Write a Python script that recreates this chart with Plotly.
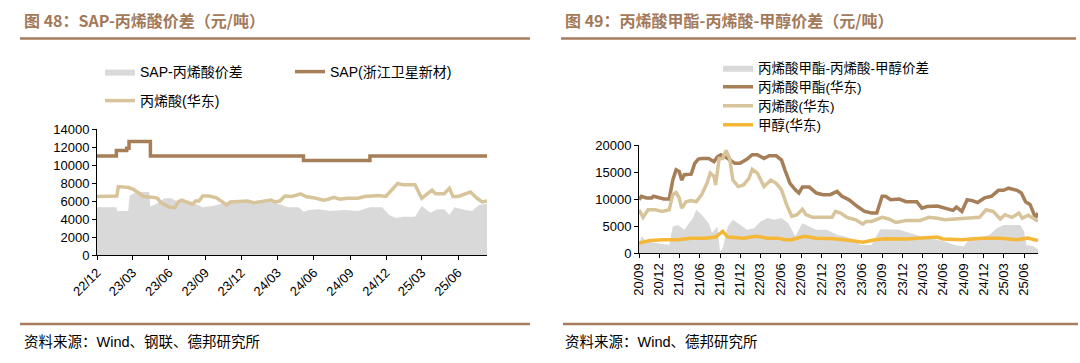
import plotly.graph_objects as go

# ---------------- Left chart: SAP - acrylic acid spread (yuan/t) ----------------
sap_dates = ["2022-12-01", "2023-01-19", "2023-02-14", "2023-02-20", "2023-04-15",
             "2024-05-06", "2024-10-21", "2025-08-13"]
sap_vals = [11000, 11600, 11850, 12600, 11000, 10500, 11000, 11000]

aa_l_dates = ["2022-12-01", "2023-01-20", "2023-01-24", "2023-02-02", "2023-02-19", "2023-03-03",
              "2023-03-20", "2023-03-29", "2023-04-24", "2023-05-03", "2023-05-12", "2023-05-21",
              "2023-06-03", "2023-06-16", "2023-06-24", "2023-07-03", "2023-07-21", "2023-07-30",
              "2023-08-07", "2023-08-16", "2023-08-25", "2023-09-11", "2023-09-29", "2023-10-16",
              "2023-10-25", "2023-11-03", "2023-11-29", "2023-12-16", "2024-01-02", "2024-01-19",
              "2024-02-14", "2024-02-23", "2024-03-07", "2024-03-20", "2024-04-07", "2024-04-29",
              "2024-05-12", "2024-06-07", "2024-06-25", "2024-07-08", "2024-07-21", "2024-08-07",
              "2024-08-25", "2024-09-21", "2024-10-08", "2024-10-26", "2024-11-12", "2024-11-30",
              "2024-12-17", "2024-12-30", "2025-01-12", "2025-01-30", "2025-02-12", "2025-03-01",
              "2025-03-14", "2025-03-27", "2025-04-05", "2025-04-27", "2025-05-10", "2025-05-19",
              "2025-06-01", "2025-06-19", "2025-07-02", "2025-07-19", "2025-08-01", "2025-08-13"]
aa_l_vals = [6500, 6550, 7600, 7550, 7500, 7300,
             6700, 6500, 6400, 6300, 5800, 5550,
             5300, 5250, 5900, 6100, 5800, 5650,
             6000, 6000, 6550, 6550, 6350, 5900,
             5550, 5900, 6000, 6000, 5800, 5900,
             6100, 5900, 6000, 6550, 6500, 6800,
             6500, 6300, 6100, 6200, 6400, 6200,
             6300, 6300, 6500, 6550, 6600, 6500,
             7400, 7950, 7800, 7800, 7800, 6300,
             6700, 7200, 6800, 6800, 7400, 6500,
             6500, 6800, 7000, 6300, 5900, 6000]

spread_l_dates = ["2022-12-01", "2023-01-19", "2023-01-21", "2023-02-18", "2023-02-21", "2023-03-10",
                  "2023-04-12", "2023-04-15", "2023-05-03", "2023-05-21", "2023-06-07", "2023-06-24",
                  "2023-07-12", "2023-07-30", "2023-08-25", "2023-09-20", "2023-10-16", "2023-11-03",
                  "2023-11-29", "2023-12-16", "2024-01-11", "2024-02-06", "2024-02-23", "2024-03-11",
                  "2024-03-29", "2024-04-24", "2024-05-06", "2024-05-20", "2024-06-15", "2024-07-12",
                  "2024-08-16", "2024-09-21", "2024-10-21", "2024-11-21", "2024-12-09", "2024-12-26",
                  "2025-01-12", "2025-02-12", "2025-03-01", "2025-03-23", "2025-04-09", "2025-04-27",
                  "2025-05-10", "2025-05-23", "2025-06-19", "2025-07-06", "2025-07-24", "2025-08-13"]
spread_l_vals = [5300, 5300, 4900, 4900, 6550, 7000,
                 7000, 5400, 5750, 6300, 6300, 5900,
                 6100, 5900, 5300, 5450, 5750, 5900,
                 5800, 5900, 5800, 5900, 5800, 5550,
                 5300, 5300, 4800, 5000, 5070, 4900,
                 5000, 4900, 5300, 5300, 4450, 4100,
                 4250, 4250, 5450, 4700, 5070, 5070,
                 4450, 5300, 5000, 4900, 5550, 5700]

# ---------------- Right chart: methyl acrylate - acrylic acid - methanol ----------------
ma_dates = ["2020-09-01", "2020-09-12", "2020-10-05", "2020-10-28", "2020-11-05", "2020-11-28",
            "2020-12-22", "2021-01-15", "2021-01-31", "2021-02-15", "2021-03-01", "2021-03-12",
            "2021-03-24", "2021-04-24", "2021-05-10", "2021-05-26", "2021-06-10", "2021-07-12",
            "2021-08-05", "2021-08-20", "2021-09-05", "2021-10-06", "2021-11-07", "2021-11-30",
            "2022-01-01", "2022-01-24", "2022-02-16", "2022-03-18", "2022-04-10", "2022-05-12",
            "2022-06-05", "2022-06-20", "2022-07-13", "2022-08-06", "2022-08-22", "2022-09-07",
            "2022-10-08", "2022-11-09", "2022-12-09", "2023-01-10", "2023-02-10", "2023-03-04",
            "2023-04-05", "2023-05-13", "2023-06-14", "2023-07-15", "2023-08-08", "2023-09-01",
            "2023-09-16", "2023-10-09", "2023-11-17", "2023-12-18", "2024-02-04", "2024-02-27",
            "2024-03-21", "2024-05-07", "2024-06-08", "2024-07-16", "2024-08-01", "2024-08-25",
            "2024-09-18", "2024-10-11", "2024-11-04", "2024-12-05", "2025-01-05", "2025-02-06",
            "2025-03-01", "2025-03-23", "2025-05-01", "2025-05-20", "2025-06-08", "2025-06-28",
            "2025-07-18", "2025-07-26", "2025-08-03"]
ma_vals = [9850, 10500, 10200, 10200, 10500, 10300,
           10000, 10000, 13500, 15400, 15100, 13500,
           14500, 14600, 16600, 17400, 17500, 17500,
           16900, 17800, 18200, 17500, 16600, 16600,
           17400, 18200, 18200, 17500, 18000, 18000,
           17200, 15400, 12900, 11700, 11100, 12200,
           12200, 11100, 10800, 10800, 11400, 10500,
           9850, 8600, 7700, 7400, 7400, 10500,
           10500, 9850, 10000, 9500, 9500, 8300,
           8600, 8700, 8300, 7900, 8500, 7700,
           9850, 9700, 9350, 10200, 10500, 11600,
           11600, 12000, 11600, 11100, 9500, 9000,
           7000, 6800, 7400]

aa_r_dates = ["2020-09-01", "2020-09-19", "2020-10-12", "2020-11-13", "2020-12-14", "2021-01-15",
              "2021-01-31", "2021-02-15", "2021-03-01", "2021-03-12", "2021-04-01", "2021-04-24",
              "2021-05-17", "2021-06-10", "2021-07-04", "2021-07-19", "2021-08-05", "2021-08-12",
              "2021-08-28", "2021-09-13", "2021-09-28", "2021-10-14", "2021-10-29", "2021-11-22",
              "2021-12-16", "2022-01-09", "2022-01-24", "2022-02-16", "2022-03-18", "2022-04-18",
              "2022-05-12", "2022-06-05", "2022-06-28", "2022-07-21", "2022-08-14", "2022-09-07",
              "2022-09-23", "2022-10-23", "2022-12-09", "2023-01-18", "2023-02-03", "2023-02-26",
              "2023-03-27", "2023-05-05", "2023-06-06", "2023-06-21", "2023-07-15", "2023-09-01",
              "2023-10-01", "2023-11-02", "2023-12-18", "2024-02-19", "2024-03-29", "2024-05-07",
              "2024-06-08", "2024-07-24", "2024-09-10", "2024-11-12", "2024-12-12", "2025-01-13",
              "2025-02-14", "2025-03-07", "2025-04-08", "2025-05-09", "2025-05-24", "2025-06-20",
              "2025-07-18", "2025-08-03"]
aa_r_vals = [8000, 6600, 8000, 8000, 7700, 8000,
             10800, 11200, 10200, 8300, 9500, 9700,
             9500, 10800, 12900, 14800, 14200, 12600,
             17500, 17500, 19000, 17500, 13500, 12300,
             12600, 13800, 15500, 14800, 12300, 13500,
             12900, 11700, 8900, 6800, 7100, 8100,
             7100, 6600, 6600, 6600, 7700, 7400,
             6600, 6150, 5350, 5850, 5850, 6600,
             6300, 5650, 6000, 6000, 6600, 6450,
             6150, 6300, 6300, 6600, 8000, 7700,
             6300, 7100, 6600, 7400, 6450, 7000,
             6300, 5900]

meoh_dates = ["2020-09-01", "2020-10-20", "2020-12-22", "2021-02-23", "2021-04-24", "2021-06-26",
              "2021-08-12", "2021-09-13", "2021-10-06", "2021-12-16", "2022-02-09", "2022-04-03",
              "2022-05-19", "2022-06-20", "2022-07-21", "2022-09-15", "2022-11-09", "2023-01-26",
              "2023-04-12", "2023-06-06", "2023-07-31", "2023-09-16", "2023-12-18", "2024-02-19",
              "2024-05-07", "2024-05-31", "2024-08-25", "2024-11-24", "2025-02-14", "2025-05-01",
              "2025-06-17", "2025-08-03"]
meoh_vals = [1850, 2300, 2450, 2450, 2750, 2750,
             2950, 4000, 2950, 2750, 3100, 2750,
             2750, 2450, 2450, 3100, 2750, 2650,
             2300, 2000, 2450, 2650, 2600, 2750,
             2950, 2600, 2450, 2750, 2750, 2450,
             2750, 2300]

spread_r_dates = ["2020-09-01", "2020-09-12", "2020-10-05", "2020-11-28", "2021-01-15", "2021-01-31",
                  "2021-02-23", "2021-03-24", "2021-05-02", "2021-05-17", "2021-06-10", "2021-07-12",
                  "2021-07-27", "2021-08-20", "2021-09-01", "2021-09-13", "2021-10-06", "2021-10-29",
                  "2021-11-30", "2022-01-01", "2022-02-01", "2022-03-03", "2022-04-03", "2022-05-04",
                  "2022-06-05", "2022-07-05", "2022-08-06", "2022-09-07", "2022-10-08", "2022-11-09",
                  "2022-12-25", "2023-02-10", "2023-03-12", "2023-04-12", "2023-05-29", "2023-07-15",
                  "2023-08-24", "2023-10-01", "2023-11-17", "2024-01-04", "2024-02-19", "2024-04-06",
                  "2024-06-08", "2024-07-24", "2024-09-02", "2024-09-26", "2024-11-12", "2024-12-28",
                  "2025-01-29", "2025-03-01", "2025-04-16", "2025-05-15", "2025-06-01", "2025-06-12",
                  "2025-07-10", "2025-07-25", "2025-08-03"]
spread_r_vals = [1500, 3100, 2150, 1850, 1500, 4900,
                 5200, 4300, 6500, 8000, 7100, 5500,
                 3700, 4900, 300, 900, 4900, 6150,
                 5200, 4300, 4600, 5850, 6500, 6150,
                 6500, 5500, 3100, 5500, 4900, 4300,
                 4300, 3400, 3100, 2750, 1500, 1500,
                 4400, 4300, 4300, 3700, 3100, 2750,
                 2150, 1500, 1200, 2450, 2750, 3400,
                 4600, 5200, 5200, 5200, 4000, 1500,
                 1300, 1000, 700]

# ---------------- styling ----------------
W, H = 1080, 363
BROWN = "#A67E58"
TAN = "#D8C49A"
GOLD = "#F5B737"
GRAY = "#D9D9D9"
TITLE_C = "#A27959"
RULE_C = "#A67D5E"
FONT = "Liberation Sans, Arial, Noto Sans CJK SC, sans-serif"
CJK = "Noto Sans CJK SC, sans-serif"


def px(x):
    return x / W


def py(y):
    return 1 - y / H


fig = go.Figure()

fig.add_trace(go.Scatter(x=spread_l_dates, y=spread_l_vals, name="SAP-丙烯酸价差", mode="lines",
                         fill="tozeroy", fillcolor=GRAY, line=dict(width=0, color=GRAY),
                         xaxis="x", yaxis="y", legend="legend"))
fig.add_trace(go.Scatter(x=sap_dates, y=sap_vals, name="SAP(浙江卫星新材)", mode="lines",
                         line=dict(width=3.5, color=BROWN, shape="hv"),
                         xaxis="x", yaxis="y", legend="legend2"))
fig.add_trace(go.Scatter(x=aa_l_dates, y=aa_l_vals, name="丙烯酸(华东)", mode="lines",
                         line=dict(width=3.5, color=TAN),
                         xaxis="x", yaxis="y", legend="legend3"))

fig.add_trace(go.Scatter(x=spread_r_dates, y=spread_r_vals, name="丙烯酸甲酯-丙烯酸-甲醇价差", mode="lines",
                         fill="tozeroy", fillcolor=GRAY, line=dict(width=0, color=GRAY),
                         xaxis="x2", yaxis="y2", legend="legend4"))
fig.add_trace(go.Scatter(x=ma_dates, y=ma_vals, name="丙烯酸甲酯(华东)", mode="lines",
                         line=dict(width=3.5, color=BROWN),
                         xaxis="x2", yaxis="y2", legend="legend5"))
fig.add_trace(go.Scatter(x=aa_r_dates, y=aa_r_vals, name="丙烯酸(华东)", mode="lines",
                         line=dict(width=3.5, color=TAN),
                         xaxis="x2", yaxis="y2", legend="legend6"))
fig.add_trace(go.Scatter(x=meoh_dates, y=meoh_vals, name="甲醇(华东)", mode="lines",
                         line=dict(width=3.5, color=GOLD),
                         xaxis="x2", yaxis="y2", legend="legend7"))

axis_common = dict(showgrid=False, zeroline=False, showline=True, linecolor="#000", linewidth=1,
                   ticks="outside", ticklen=4, tickcolor="#000", automargin=False,
                   tickfont=dict(family=FONT, size=13, color="#000"))

fig.update_layout(
    template="none",
    width=W, height=H, margin=dict(l=0, r=0, t=0, b=0, autoexpand=False),
    paper_bgcolor="white", plot_bgcolor="white",
    font=dict(family=FONT, size=13, color="#000"),
    xaxis=dict(domain=[px(97), px(487)], anchor="y", type="date",
               range=["2022-12-01", "2025-08-13"], tick0="2022-12-01", dtick="M3",
               tickformat="%y/%m", tickangle=-45, **axis_common),
    yaxis=dict(domain=[py(255), py(129)], anchor="x", range=[0, 14000], dtick=2000,
               tickformat="d", **axis_common),
    xaxis2=dict(domain=[px(639), px(1038)], anchor="y2", type="date",
                range=["2020-09-01", "2025-08-03"], tick0="2020-09-01", dtick="M3",
                tickformat="%y/%m", tickangle=-90, **axis_common),
    yaxis2=dict(domain=[py(253), py(145)], anchor="x2", range=[0, 20000], dtick=5000,
                tickformat="d", **axis_common),
    showlegend=True,
)

leg_common = dict(bgcolor="rgba(0,0,0,0)", borderwidth=0, xanchor="left", yanchor="middle")
fig.update_layout(
    legend=dict(x=px(100), y=py(72), font=dict(family=FONT, size=14), **leg_common),
    legend2=dict(x=px(290), y=py(72), font=dict(family=FONT, size=14), **leg_common),
    legend3=dict(x=px(100), y=py(101), font=dict(family=FONT, size=14), **leg_common),
    legend4=dict(x=px(718), y=py(68), font=dict(family=FONT, size=13.5), **leg_common),
    legend5=dict(x=px(718), y=py(87), font=dict(family=FONT, size=13.5), **leg_common),
    legend6=dict(x=px(718), y=py(106), font=dict(family=FONT, size=13.5), **leg_common),
    legend7=dict(x=px(718), y=py(125), font=dict(family=FONT, size=13.5), **leg_common),
)

# titles, sources
anns = [
    dict(text="<b>图 48：SAP-丙烯酸价差（元/吨）</b>", x=px(22), y=py(20)),
    dict(text="<b>图 49：丙烯酸甲酯-丙烯酸-甲醇价差（元/吨）</b>", x=px(563), y=py(20)),
]
for a in anns:
    fig.add_annotation(text=a["text"], x=a["x"], y=a["y"], xref="paper", yref="paper",
                       xanchor="left", yanchor="middle", showarrow=False,
                       font=dict(family=CJK, size=16, color=TITLE_C))
for xs, txt in [(22, "资料来源：Wind、钢联、德邦研究所"), (563, "资料来源：Wind、德邦研究所")]:
    fig.add_annotation(text=txt, x=px(xs), y=py(342), xref="paper", yref="paper",
                       xanchor="left", yanchor="middle", showarrow=False,
                       font=dict(family=FONT, size=14.5, color="#000"))

# rules
for x0, x1, y in [(20, 530, 38.5), (561, 1076, 38.5), (20, 530, 324), (563, 1078, 324)]:
    fig.add_shape(type="line", xref="paper", yref="paper", x0=px(x0), x1=px(x1), y0=py(y), y1=py(y),
                  line=dict(color=RULE_C, width=2.5))

fig.write_html("out.html", config={"displayModeBar": False},
               post_script="document.body.style.margin='0';")
